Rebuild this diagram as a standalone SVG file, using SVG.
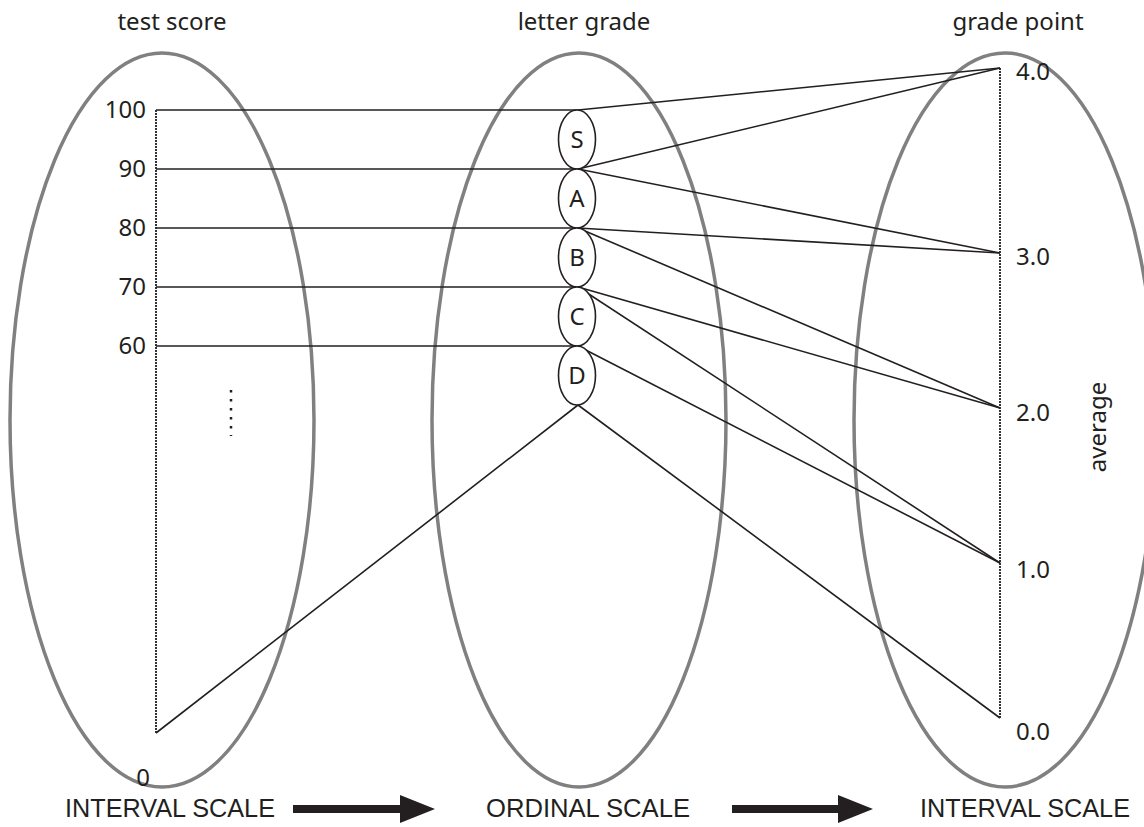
<svg xmlns="http://www.w3.org/2000/svg" width="1144" height="827" viewBox="0 0 1144 827">
<style>
.big{fill:none;stroke:#808080;stroke-width:3.5}
.axis{stroke:#333;stroke-width:2;stroke-dasharray:2 1}
.ln{stroke:#231f20;stroke-width:1.6;fill:none}
.sm{fill:#fff;stroke:#231f20;stroke-width:1.6}
.t{font-family:"Noto Sans","Liberation Sans",sans-serif;fill:#231f20;font-size:24px}
.b{font-family:"Liberation Sans",sans-serif;fill:#231f20;font-size:26px}
</style>
<rect width="1144" height="827" fill="#fff"/>
<g id="ellipses">
<ellipse class="big" cx="162" cy="420" rx="152" ry="367"/>
<ellipse class="big" cx="579" cy="420" rx="147" ry="367"/>
<ellipse class="big" cx="1005" cy="420" rx="151" ry="367"/>
</g>
<g id="axes">
<line class="axis" x1="156" y1="110" x2="156" y2="733"/>
<line class="axis" x1="1000" y1="68" x2="1000" y2="718"/>
<line x1="231" y1="390" x2="231" y2="436" stroke="#231f20" stroke-width="2.5" stroke-dasharray="2.5 6.5"/>
</g>
<g id="connectors">
<line class="ln" x1="156" y1="110" x2="578" y2="110"/>
<line class="ln" x1="156" y1="169" x2="578" y2="169"/>
<line class="ln" x1="156" y1="228" x2="578" y2="228"/>
<line class="ln" x1="156" y1="287" x2="578" y2="287"/>
<line class="ln" x1="156" y1="346" x2="578" y2="346"/>
<line class="ln" x1="578" y1="110" x2="1000" y2="68"/>
<line class="ln" x1="578" y1="169" x2="1000" y2="68"/>
<line class="ln" x1="578" y1="169" x2="1000" y2="253"/>
<line class="ln" x1="578" y1="228" x2="1000" y2="253"/>
<line class="ln" x1="578" y1="228" x2="1000" y2="408"/>
<line class="ln" x1="578" y1="287" x2="1000" y2="408"/>
<line class="ln" x1="578" y1="287" x2="1000" y2="563"/>
<line class="ln" x1="578" y1="346" x2="1000" y2="563"/>
<line class="ln" x1="578" y1="405" x2="1000" y2="718"/>
<line class="ln" x1="578" y1="405" x2="156" y2="733"/>
</g>
<g id="node-S"><ellipse class="sm" cx="577" cy="139.5" rx="18.5" ry="29.5"/><text class="t" x="577" y="148" text-anchor="middle" font-size="22">S</text></g>
<g id="node-A"><ellipse class="sm" cx="577" cy="198.5" rx="18.5" ry="29.5"/><text class="t" x="577" y="207" text-anchor="middle" font-size="22">A</text></g>
<g id="node-B"><ellipse class="sm" cx="577" cy="257.5" rx="18.5" ry="29.5"/><text class="t" x="577" y="266" text-anchor="middle" font-size="22">B</text></g>
<g id="node-C"><ellipse class="sm" cx="577" cy="316.5" rx="18.5" ry="29.5"/><text class="t" x="577" y="325" text-anchor="middle" font-size="22">C</text></g>
<g id="node-D"><ellipse class="sm" cx="577" cy="375.5" rx="18.5" ry="29.5"/><text class="t" x="577" y="384" text-anchor="middle" font-size="22">D</text></g>
<g id="titles">
<text class="t" x="172" y="30" text-anchor="middle">test score</text>
<text class="t" x="584" y="30" text-anchor="middle">letter grade</text>
<text class="t" x="1018" y="30" text-anchor="middle">grade point</text>
</g>
<g id="left-labels">
<text class="t" x="146" y="118" text-anchor="end">100</text>
<text class="t" x="146" y="177" text-anchor="end">90</text>
<text class="t" x="146" y="236" text-anchor="end">80</text>
<text class="t" x="146" y="295" text-anchor="end">70</text>
<text class="t" x="146" y="354" text-anchor="end">60</text>
<text class="t" x="143" y="786" text-anchor="middle">0</text>
</g>
<g id="right-labels">
<text class="t" x="1016" y="80">4.0</text>
<text class="t" x="1016" y="265">3.0</text>
<text class="t" x="1016" y="421">2.0</text>
<text class="t" x="1016" y="578">1.0</text>
<text class="t" x="1016" y="740">0.0</text>
<text class="t" transform="translate(1106,427) rotate(-90)" text-anchor="middle">average</text>
</g>
<g id="scales">
<text class="b" x="65" y="817" textLength="210" lengthAdjust="spacingAndGlyphs">INTERVAL SCALE</text>
<text class="b" x="486" y="817" textLength="204" lengthAdjust="spacingAndGlyphs">ORDINAL SCALE</text>
<text class="b" x="920" y="817" textLength="210" lengthAdjust="spacingAndGlyphs">INTERVAL SCALE</text>
<polygon fill="#231f20" points="293,805 400,805 400,795 435,809 400,823 400,813 293,813"/>
<polygon fill="#231f20" points="732,805 838,805 838,795 873,809 838,823 838,813 732,813"/>
</g>
</svg>
